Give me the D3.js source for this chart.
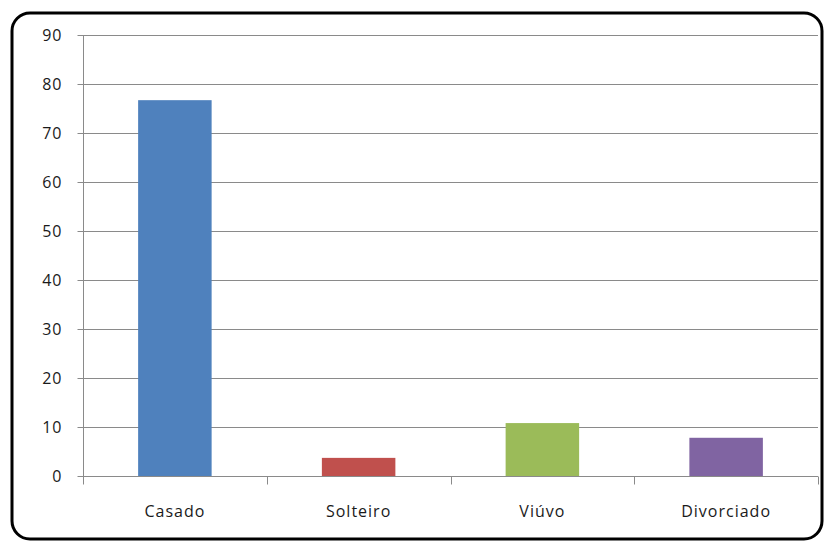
<!DOCTYPE html>
<html>
<head>
<meta charset="utf-8">
<script src="https://cdn.jsdelivr.net/npm/d3@7"></script>
<style>
  html, body { margin: 0; padding: 0; background: #fff; }
  svg { display: block; }
  text { font-family: "Open Sans", Lato, sans-serif; fill: #1a1a1a; }
</style>
</head>
<body>
<svg id="chart" width="824" height="542"></svg>
<script>
// Estado civil (%)
const categories = ["Casado", "Solteiro", "Viúvo", "Divorciado"];
const values = [76.7, 3.7, 10.8, 7.8];
const colors = ["#4F81BD", "#C0504D", "#9BBB59", "#8064A2"];
const yTicks = [0, 10, 20, 30, 40, 50, 60, 70, 80, 90];

const svg = d3.select("#chart");
const margin = { left: 83, right: 6, top: 35, bottom: 66 };
const W = 824, H = 542;
const plotW = W - margin.left - margin.right;
const plotH = H - margin.top - margin.bottom;

// outer frame
svg.append("rect")
  .attr("x", 12).attr("y", 13)
  .attr("width", 810).attr("height", 526)
  .attr("rx", 18).attr("ry", 18)
  .attr("fill", "#fff")
  .attr("stroke", "#000")
  .attr("stroke-width", 3);

const g = svg.append("g").attr("transform", `translate(${margin.left},${margin.top})`);

const x = d3.scaleBand().domain(categories).range([0, plotW])
  .paddingInner(0.6).paddingOuter(0.3);
const y = d3.scaleLinear().domain([0, 90]).range([plotH, 0]);

// horizontal gridlines
g.append("g").selectAll("line").data(yTicks.filter(d => d > 0)).join("line")
  .attr("x1", 0).attr("x2", plotW)
  .attr("y1", d => Math.round(y(d)) + 0.5).attr("y2", d => Math.round(y(d)) + 0.5)
  .attr("stroke", "#8a8a8a").attr("stroke-width", 1);

// bars
g.append("g").selectAll("rect").data(categories).join("rect")
  .attr("x", d => x(d))
  .attr("width", x.bandwidth())
  .attr("y", (d, i) => y(values[i]))
  .attr("height", (d, i) => plotH - y(values[i]))
  .attr("fill", (d, i) => colors[i]);

// y axis
const yAxis = d3.axisLeft(y).tickValues(yTicks).tickSize(6).tickPadding(15);
const ya = g.append("g").attr("transform", "translate(0.5,0)").call(yAxis);
ya.select(".domain").attr("stroke", "#8a8a8a").attr("d", `M0,${Math.round(y(0))}V${Math.round(y(90))}`);
ya.selectAll(".tick line").attr("stroke", "#8a8a8a");
ya.selectAll(".tick text").attr("font-size", 16).attr("fill", "#1a1a1a")
  .attr("letter-spacing", "1px")
  .style("font-family", "'Open Sans', Lato, sans-serif");

// x axis with ticks between categories
const xAxis = g.append("g").attr("transform", `translate(0,${Math.round(plotH) + 0.5})`);
xAxis.append("line").attr("x1", 0).attr("x2", plotW).attr("stroke", "#8a8a8a");
const bounds = d3.range(categories.length + 1).map(i => i * plotW / categories.length);
xAxis.selectAll("line.sep").data(bounds).join("line").attr("class", "sep")
  .attr("x1", d => Math.round(d) + 0.5).attr("x2", d => Math.round(d) + 0.5)
  .attr("y1", 0).attr("y2", 8).attr("stroke", "#8a8a8a");
xAxis.selectAll("text").data(categories).join("text")
  .attr("x", d => x(d) + x.bandwidth() / 2)
  .attr("y", 40)
  .attr("text-anchor", "middle")
  .attr("font-size", 16)
  .attr("letter-spacing", "1px")
  .text(d => d);
</script>
</body>
</html>
